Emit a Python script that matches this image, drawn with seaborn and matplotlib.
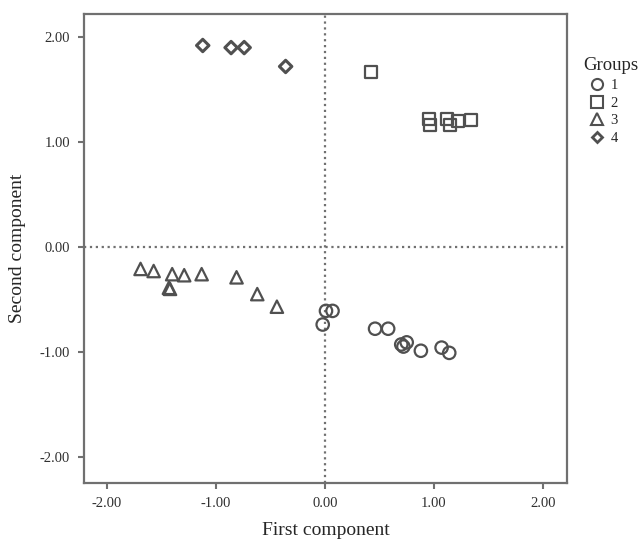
import matplotlib
matplotlib.use("Agg")
import matplotlib.pyplot as plt
from matplotlib.lines import Line2D
import pandas as pd
import seaborn as sns

# component scores, one list per group
g1_x = [0.01, 0.07, -0.02, 0.46, 0.58, 0.70, 0.72, 0.75, 0.88, 1.07, 1.14]
g1_y = [-0.61, -0.61, -0.74, -0.78, -0.78, -0.93, -0.95, -0.91, -0.99, -0.96, -1.01]

g2_x = [0.42, 0.95, 0.96, 1.12, 1.15, 1.22, 1.34]
g2_y = [1.67, 1.22, 1.16, 1.22, 1.16, 1.20, 1.21]

g3_x = [-1.69, -1.57, -1.40, -1.29, -1.13, -0.81, -1.43, -1.42, -0.62, -0.44]
g3_y = [-0.21, -0.23, -0.26, -0.27, -0.26, -0.29, -0.39, -0.40, -0.45, -0.57]

g4_x = [-1.12, -0.86, -0.74, -0.36]
g4_y = [1.92, 1.90, 1.90, 1.72]

groups = ["1", "2", "3", "4"]
tick_vals = [-2, -1, 0, 1, 2]

frames = []
for name, xs, ys in zip(groups, [g1_x, g2_x, g3_x, g4_x], [g1_y, g2_y, g3_y, g4_y]):
    frames.append(pd.DataFrame({"First": xs, "Second": ys, "Group": name}))
df = pd.concat(frames, ignore_index=True)

sns.set_style("white")
plt.rcParams["font.family"] = ["Liberation Serif", "DejaVu Serif"]

edge = "#505050"
markers = {"1": "o", "2": "s", "3": "^", "4": "D"}
sizes = {"1": 80, "2": 75, "3": 80, "4": 40}

fig = plt.figure(figsize=(6.4, 5.39), dpi=100)
ax = fig.add_axes([0.131, 0.104, 0.755, 0.870])

ax.axhline(0, color="#707070", linestyle=":", linewidth=1.6, zorder=1)
ax.axvline(0, color="#707070", linestyle=":", linewidth=1.6, zorder=1)

for name in groups:
    sub = df[df["Group"] == name]
    sns.scatterplot(
        data=sub, x="First", y="Second", marker=markers[name], s=sizes[name],
        facecolor="none", edgecolor=edge, linewidth=1.6 if name != "4" else 2.2,
        ax=ax, zorder=3, legend=False,
    )

ax.set_xlim(-2.21, 2.22)
ax.set_ylim(-2.25, 2.22)
ax.set_xticks(tick_vals)
ax.set_yticks(tick_vals)
ax.set_xticklabels([f"{v:.2f}" for v in tick_vals])
ax.set_yticklabels([f"{v:.2f}" for v in tick_vals])
ax.tick_params(axis="both", direction="out", length=4, width=1.5, color="#707070",
               labelsize=10.5, labelcolor="#303030", bottom=True, left=True, pad=6)
for sp in ax.spines.values():
    sp.set_color("#707070")
    sp.set_linewidth(1.6)

ax.set_xlabel("First component", fontsize=14, labelpad=9)
ax.set_ylabel("Second component", fontsize=14, labelpad=10)

# legend: title as its own text, entries indented below it
fig.text(583 / 640, 1 - 66 / 539, "Groups", fontsize=13.5, ha="left", va="center")
handles = [
    Line2D([], [], linestyle="none", marker=markers[n], markersize=8 if n != "4" else 5.5,
           markerfacecolor="none", markeredgecolor=edge,
           markeredgewidth=1.5 if n != "4" else 2.0)
    for n in groups
]
fig.legend(handles, groups, loc="upper left",
           bbox_to_anchor=(590 / 640, 1 - 79 / 539), frameon=False, fontsize=10.5,
           handlelength=1.0, handletextpad=0.4, labelspacing=0.3,
           borderaxespad=0, borderpad=0)

fig.savefig("out.png", dpi=100)
